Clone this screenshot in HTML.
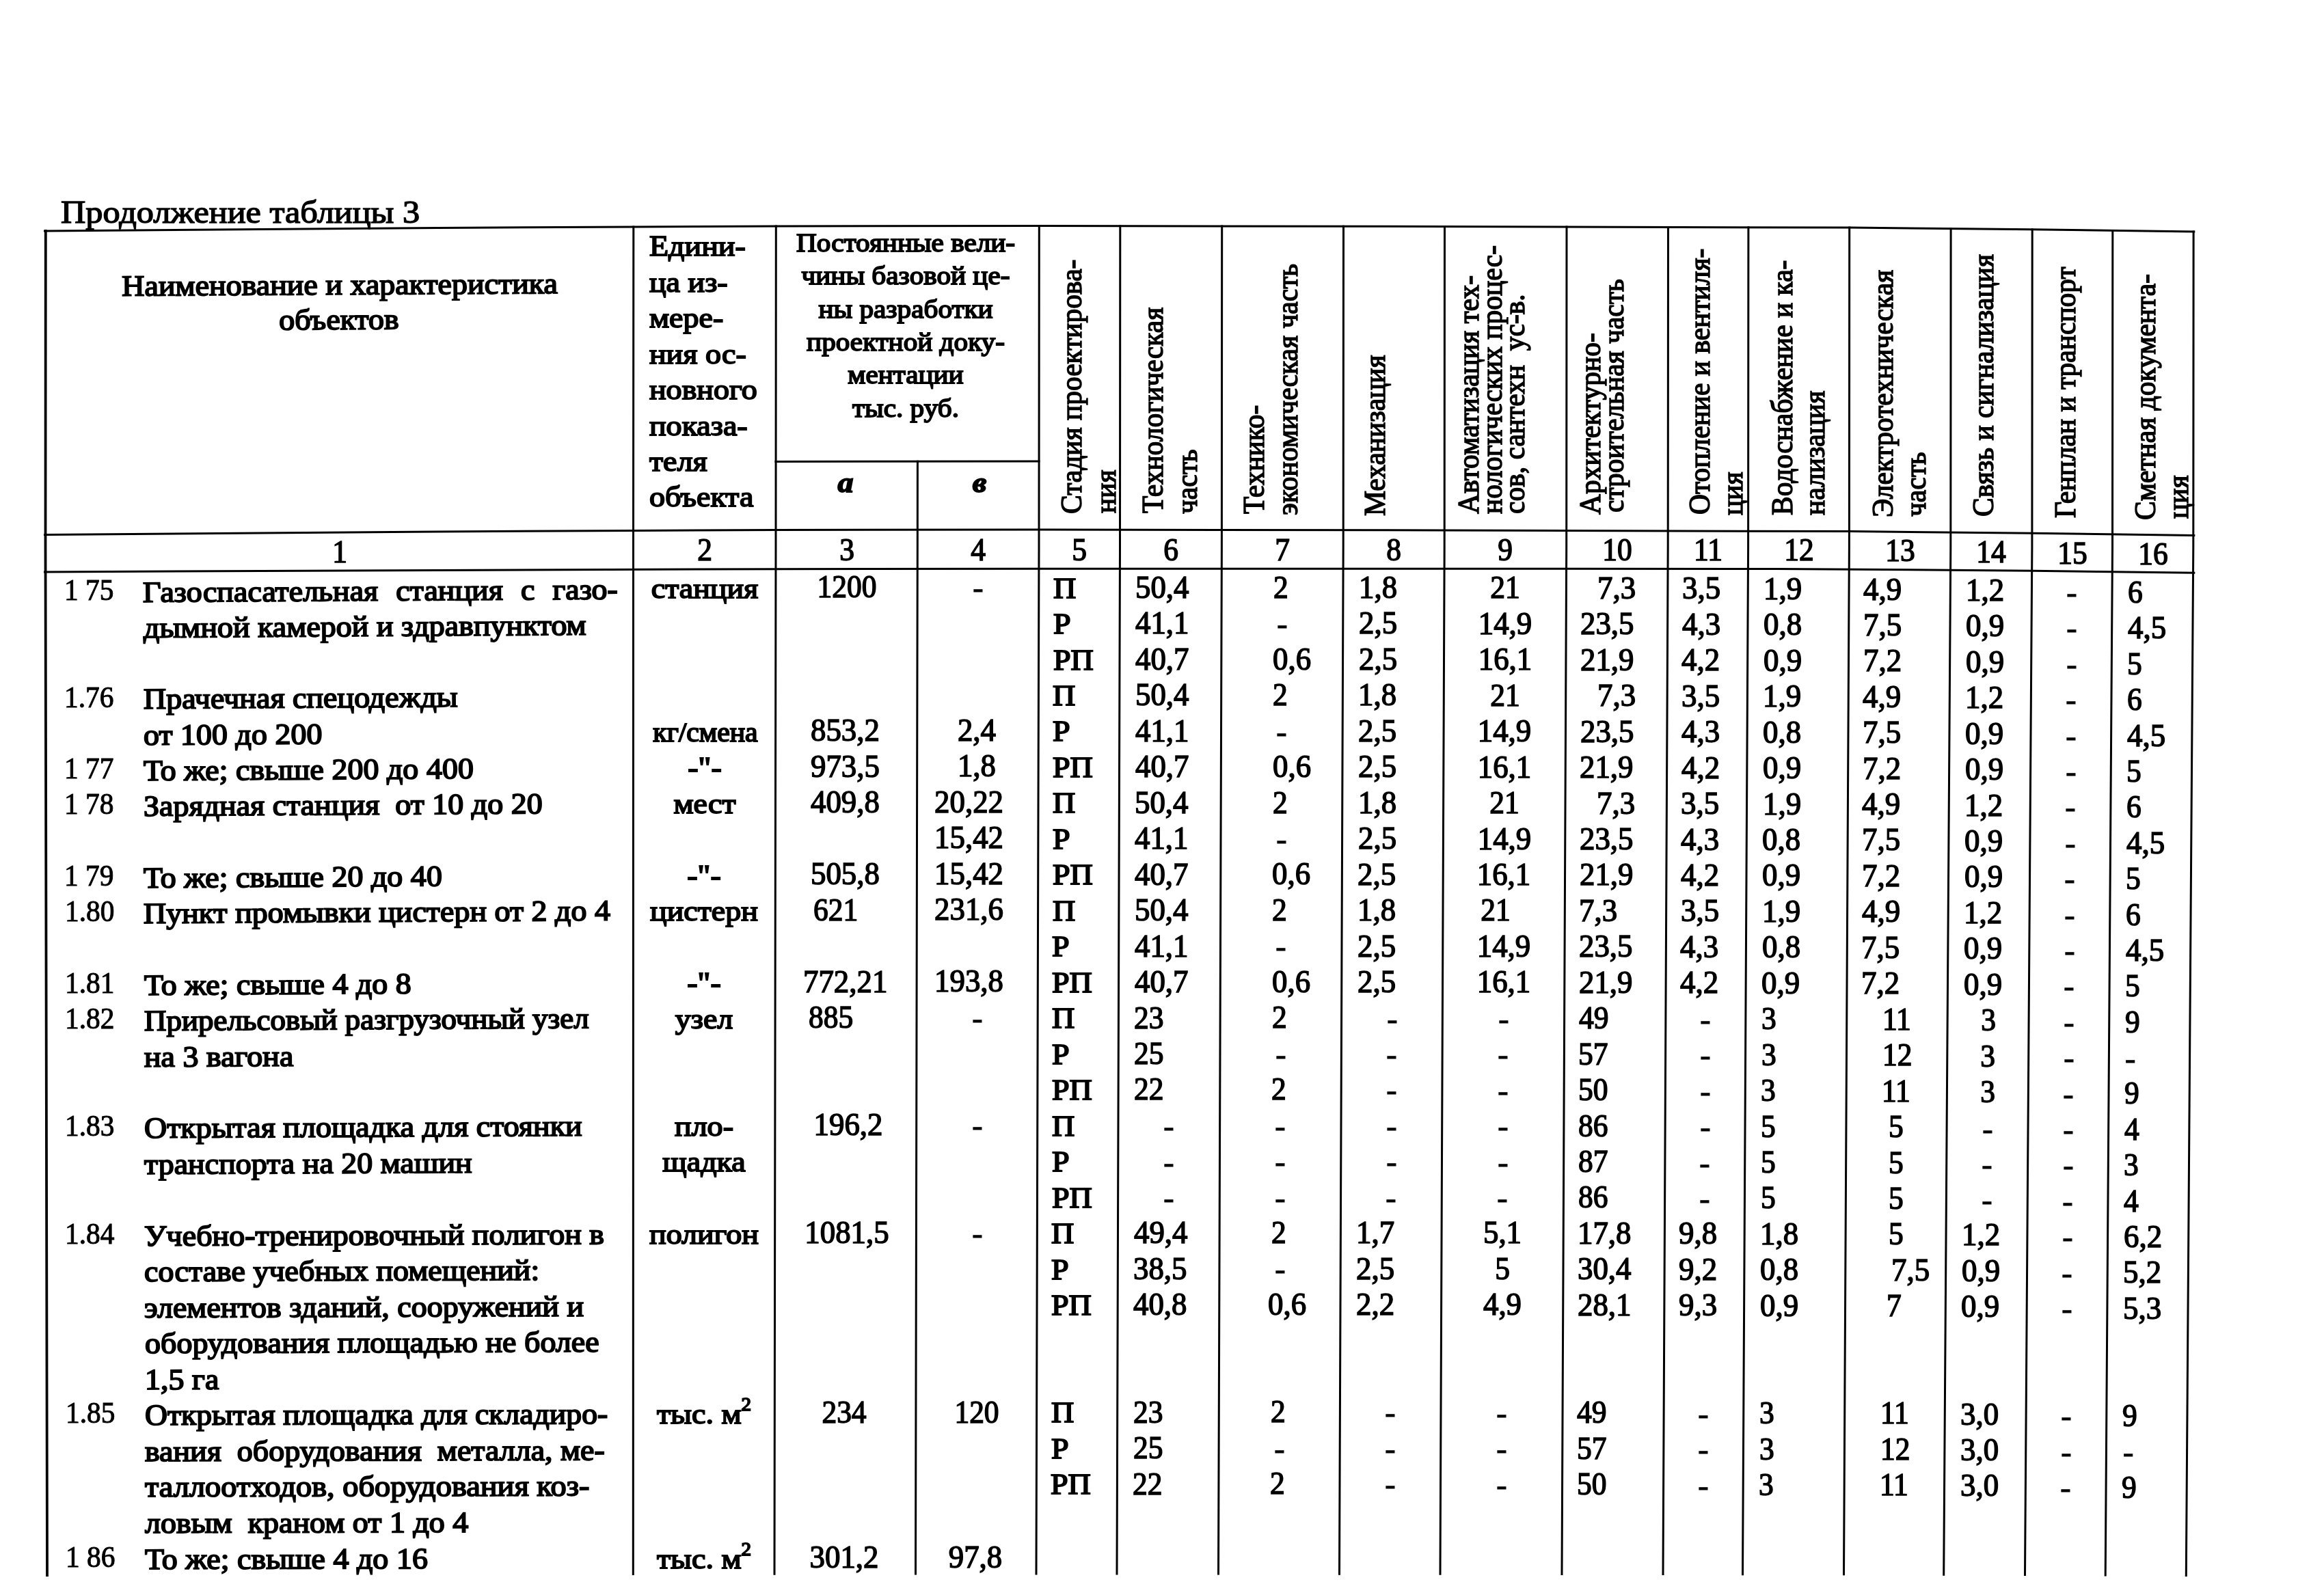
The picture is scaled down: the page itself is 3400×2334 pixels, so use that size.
<!DOCTYPE html>
<html lang="ru"><head><meta charset="utf-8"><title>Продолжение таблицы 3</title>
<style>
html,body{margin:0;padding:0;background:#fff;overflow:hidden;}
#pg{will-change:transform;position:relative;width:3400px;height:2334px;overflow:hidden;background:#fff;font-family:"Liberation Serif",serif;color:#000;}
#pg div{position:absolute;white-space:pre;line-height:1;-webkit-text-stroke:1.85px #000;}
#pg svg{position:absolute;left:0;top:0;}
</style></head><body>
<div id="pg">
<svg width="3400" height="2334" viewBox="0 0 3400 2334" fill="none" stroke="#000" stroke-linecap="square">
<polyline points="65.5,338.0 66.0,338.0 640.0,333.5 927.0,332.0 1135.0,331.0 1520.0,330.5 2113.0,331.5 2707.0,333.1 2973.0,335.7 3209.8,339.1" stroke-width="3.0"/>
<polyline points="65.5,782.5 66.0,782.5 640.0,778.0 927.0,776.5 1135.0,775.5 1520.0,775.0 2113.0,776.0 2707.0,777.6 2973.0,780.2 3209.8,783.6" stroke-width="3.0"/>
<polyline points="65.5,836.9 640.0,834.4 1135.0,832.7 1520.0,832.2 2600.0,832.4 2973.0,835.2 3209.8,838.3" stroke-width="3"/>
<polyline points="1135.0,675.5 1520.0,675.0" stroke-width="3.0"/>
<polyline points="66.8,338.0 66.5,800.0 69.0,2305.2" stroke-width="3.8"/>
<polyline points="926.8,332.0 926.5,800.0 926.3,2303.5" stroke-width="3.0"/>
<polyline points="1135.3,331.0 1135.0,800.0 1133.0,2303.2" stroke-width="3.0"/>
<polyline points="1342.4,675.2 1342.3,800.0 1339.5,2303.1" stroke-width="3.0"/>
<polyline points="1520.3,330.5 1520.0,800.0 1516.0,2303.0" stroke-width="3.0"/>
<polyline points="1638.8,330.7 1638.5,800.0 1634.0,2303.1" stroke-width="3.0"/>
<polyline points="1787.7,331.0 1787.4,800.0 1782.5,2303.1" stroke-width="3.0"/>
<polyline points="1965.5,331.3 1965.2,800.0 1959.5,2303.2" stroke-width="3.0"/>
<polyline points="2113.5,331.5 2113.2,800.0 2107.0,2303.3" stroke-width="3.0"/>
<polyline points="2292.0,332.0 2291.7,800.0 2285.0,2303.4" stroke-width="3.0"/>
<polyline points="2440.5,332.4 2440.2,800.0 2433.0,2303.6" stroke-width="3.0"/>
<polyline points="2557.9,332.7 2557.6,800.0 2549.5,2303.7" stroke-width="3.0"/>
<polyline points="2705.7,333.1 2705.4,800.0 2697.5,2303.8" stroke-width="3.0"/>
<polyline points="2854.1,334.5 2853.8,800.0 2843.7,2304.2" stroke-width="3.0"/>
<polyline points="2973.2,335.7 2972.9,800.0 2962.5,2304.6" stroke-width="3.0"/>
<polyline points="3090.8,337.4 3090.5,800.0 3080.2,2305.1" stroke-width="3.0"/>
<polyline points="3209.1,339.1 3208.8,800.0 3198.3,2305.6" stroke-width="3.0"/>
</svg>
<div style="left:88.5px;top:286.9px;font-size:47px;transform-origin:0 83.8%;transform:scaleX(1.07);-webkit-text-stroke-width:1.4px;">Продолжение таблицы 3</div>
<div style="left:496.5px;top:394.7px;font-size:43px;transform-origin:50% 50%;transform:translateX(-50%) rotate(-0.33deg) scaleX(1.07);">Наименование и характеристика</div>
<div style="left:496.0px;top:446.1px;font-size:43px;transform-origin:50% 50%;transform:translateX(-50%) rotate(-0.33deg) scaleX(1.07);">объектов</div>
<div style="left:950.0px;top:338.3px;font-size:43px;transform-origin:0 83.8%;transform:scaleX(1.07);">Едини-</div>
<div style="left:950.0px;top:390.7px;font-size:43px;transform-origin:0 83.8%;transform:scaleX(1.07);">ца из-</div>
<div style="left:950.0px;top:443.2px;font-size:43px;transform-origin:0 83.8%;transform:scaleX(1.07);">мере-</div>
<div style="left:950.0px;top:495.6px;font-size:43px;transform-origin:0 83.8%;transform:scaleX(1.07);">ния ос-</div>
<div style="left:950.0px;top:548.1px;font-size:43px;transform-origin:0 83.8%;transform:scaleX(1.07);">новного</div>
<div style="left:950.0px;top:600.5px;font-size:43px;transform-origin:0 83.8%;transform:scaleX(1.07);">показа-</div>
<div style="left:950.0px;top:653.0px;font-size:43px;transform-origin:0 83.8%;transform:scaleX(1.07);">теля</div>
<div style="left:950.0px;top:705.4px;font-size:43px;transform-origin:0 83.8%;transform:scaleX(1.07);">объекта</div>
<div style="left:1325.0px;top:336.1px;font-size:38.5px;transform-origin:50% 50%;transform:translateX(-50%) scaleX(1.07);">Постоянные вели-</div>
<div style="left:1325.0px;top:384.4px;font-size:38.5px;transform-origin:50% 50%;transform:translateX(-50%) scaleX(1.07);">чины базовой це-</div>
<div style="left:1325.0px;top:432.7px;font-size:38.5px;transform-origin:50% 50%;transform:translateX(-50%) scaleX(1.07);">ны разработки</div>
<div style="left:1325.0px;top:481.0px;font-size:38.5px;transform-origin:50% 50%;transform:translateX(-50%) scaleX(1.07);">проектной доку-</div>
<div style="left:1325.0px;top:529.3px;font-size:38.5px;transform-origin:50% 50%;transform:translateX(-50%) scaleX(1.07);">ментации</div>
<div style="left:1325.0px;top:577.6px;font-size:38.5px;transform-origin:50% 50%;transform:translateX(-50%) scaleX(1.07);">тыс. руб.</div>
<div style="left:1237.0px;top:684.4px;font-size:43px;transform-origin:50% 50%;transform:translateX(-50%) scaleX(1.07);font-weight:bold;font-style:italic;">а</div>
<div style="left:1432.5px;top:684.1px;font-size:43px;transform-origin:50% 50%;transform:translateX(-50%) scaleX(1.07);font-weight:bold;font-style:italic;">в</div>
<div style="left:1546.2px;top:752.0px;font-size:41.5px;transform-origin:0 0;transform:rotate(-90deg) scaleY(1.07);-webkit-text-stroke-width:1.4px;">Стадия проектирова-</div>
<div style="left:1595.8px;top:750.5px;font-size:41.5px;transform-origin:0 0;transform:rotate(-90deg) scaleY(1.07);-webkit-text-stroke-width:1.4px;">ния</div>
<div style="left:1665.0px;top:750.8px;font-size:41.5px;transform-origin:0 0;transform:rotate(-90deg) scaleY(1.07);-webkit-text-stroke-width:1.4px;">Технологическая</div>
<div style="left:1714.6px;top:752.3px;font-size:41.5px;transform-origin:0 0;transform:rotate(-90deg) scaleY(1.07);-webkit-text-stroke-width:1.4px;">часть</div>
<div style="left:1813.4px;top:751.7px;font-size:41.5px;transform-origin:0 0;transform:rotate(-90deg) scaleY(1.07);-webkit-text-stroke-width:1.4px;">Технико-</div>
<div style="left:1862.4px;top:753.5px;font-size:41.5px;transform-origin:0 0;transform:rotate(-90deg) scaleY(1.07);-webkit-text-stroke-width:1.4px;">экономическая часть</div>
<div style="left:1989.8px;top:754.8px;font-size:41.5px;transform-origin:0 0;transform:rotate(-90deg) scaleY(1.07);-webkit-text-stroke-width:1.4px;">Механизация</div>
<div style="left:2126.6px;top:752.0px;font-size:41.5px;transform-origin:0 0;transform:rotate(-90deg) scaleY(1.07);-webkit-text-stroke-width:1.4px;">Автоматизация тех-</div>
<div style="left:2160.6px;top:751.7px;font-size:41.5px;transform-origin:0 0;transform:rotate(-90deg) scaleY(1.07);-webkit-text-stroke-width:1.4px;">нологических процес-</div>
<div style="left:2193.7px;top:751.5px;font-size:41.5px;transform-origin:0 0;transform:rotate(-90deg) scaleY(1.07);-webkit-text-stroke-width:1.4px;">сов, сантехн  ус-в.</div>
<div style="left:2304.5px;top:753.3px;font-size:41.5px;transform-origin:0 0;transform:rotate(-90deg) scaleY(1.07);-webkit-text-stroke-width:1.4px;">Архитектурно-</div>
<div style="left:2338.7px;top:750.0px;font-size:41.5px;transform-origin:0 0;transform:rotate(-90deg) scaleY(1.07);-webkit-text-stroke-width:1.4px;">строительная часть</div>
<div style="left:2464.5px;top:753.0px;font-size:41.5px;transform-origin:0 0;transform:rotate(-90deg) scaleY(1.07);-webkit-text-stroke-width:1.4px;">Отопление и вентиля-</div>
<div style="left:2513.0px;top:753.5px;font-size:41.5px;transform-origin:0 0;transform:rotate(-90deg) scaleY(1.07);-webkit-text-stroke-width:1.4px;">ция</div>
<div style="left:2585.8px;top:754.0px;font-size:41.5px;transform-origin:0 0;transform:rotate(-90deg) scaleY(1.07);-webkit-text-stroke-width:1.4px;">Водоснабжение и ка-</div>
<div style="left:2632.6px;top:753.5px;font-size:41.5px;transform-origin:0 0;transform:rotate(-90deg) scaleY(1.07);-webkit-text-stroke-width:1.4px;">нализация</div>
<div style="left:2732.6px;top:757.4px;font-size:41.5px;transform-origin:0 0;transform:rotate(-90deg) scaleY(1.07);-webkit-text-stroke-width:1.4px;">Электротехническая</div>
<div style="left:2780.5px;top:756.0px;font-size:41.5px;transform-origin:0 0;transform:rotate(-90deg) scaleY(1.07);-webkit-text-stroke-width:1.4px;">часть</div>
<div style="left:2880.1px;top:756.4px;font-size:41.5px;transform-origin:0 0;transform:rotate(-90deg) scaleY(1.07);-webkit-text-stroke-width:1.4px;">Связь и сигнализация</div>
<div style="left:2999.6px;top:758.4px;font-size:41.5px;transform-origin:0 0;transform:rotate(-90deg) scaleY(1.07);-webkit-text-stroke-width:1.4px;">Генплан и транспорт</div>
<div style="left:3116.6px;top:761.3px;font-size:41.5px;transform-origin:0 0;transform:rotate(-90deg) scaleY(1.07);-webkit-text-stroke-width:1.4px;">Сметная документа-</div>
<div style="left:3165.4px;top:758.7px;font-size:41.5px;transform-origin:0 0;transform:rotate(-90deg) scaleY(1.07);-webkit-text-stroke-width:1.4px;">ция</div>
<div style="left:496.5px;top:784.5px;font-size:46px;transform-origin:50% 50%;transform:translateX(-50%) scaleX(0.945);-webkit-text-stroke-width:1.5px;">1</div>
<div style="left:1030.8px;top:782.3px;font-size:46px;transform-origin:50% 50%;transform:translateX(-50%) scaleX(0.945);-webkit-text-stroke-width:1.5px;">2</div>
<div style="left:1238.7px;top:782.3px;font-size:46px;transform-origin:50% 50%;transform:translateX(-50%) scaleX(0.945);-webkit-text-stroke-width:1.5px;">3</div>
<div style="left:1431.2px;top:782.3px;font-size:46px;transform-origin:50% 50%;transform:translateX(-50%) scaleX(0.945);-webkit-text-stroke-width:1.5px;">4</div>
<div style="left:1579.2px;top:782.3px;font-size:46px;transform-origin:50% 50%;transform:translateX(-50%) scaleX(0.945);-webkit-text-stroke-width:1.5px;">5</div>
<div style="left:1713.0px;top:782.3px;font-size:46px;transform-origin:50% 50%;transform:translateX(-50%) scaleX(0.945);-webkit-text-stroke-width:1.5px;">6</div>
<div style="left:1876.3px;top:782.3px;font-size:46px;transform-origin:50% 50%;transform:translateX(-50%) scaleX(0.945);-webkit-text-stroke-width:1.5px;">7</div>
<div style="left:2039.2px;top:782.3px;font-size:46px;transform-origin:50% 50%;transform:translateX(-50%) scaleX(0.945);-webkit-text-stroke-width:1.5px;">8</div>
<div style="left:2202.4px;top:782.3px;font-size:46px;transform-origin:50% 50%;transform:translateX(-50%) scaleX(0.945);-webkit-text-stroke-width:1.5px;">9</div>
<div style="left:2365.9px;top:782.3px;font-size:46px;transform-origin:50% 50%;transform:translateX(-50%) scaleX(0.945);-webkit-text-stroke-width:1.5px;">10</div>
<div style="left:2498.9px;top:782.3px;font-size:46px;transform-origin:50% 50%;transform:translateX(-50%) scaleX(0.945);-webkit-text-stroke-width:1.5px;">11</div>
<div style="left:2631.5px;top:782.3px;font-size:46px;transform-origin:50% 50%;transform:translateX(-50%) scaleX(0.945);-webkit-text-stroke-width:1.5px;">12</div>
<div style="left:2779.6px;top:783.4px;font-size:46px;transform-origin:50% 50%;transform:translateX(-50%) scaleX(0.945);-webkit-text-stroke-width:1.5px;">13</div>
<div style="left:2913.4px;top:784.9px;font-size:46px;transform-origin:50% 50%;transform:translateX(-50%) scaleX(0.945);-webkit-text-stroke-width:1.5px;">14</div>
<div style="left:3031.7px;top:786.5px;font-size:46px;transform-origin:50% 50%;transform:translateX(-50%) scaleX(0.945);-webkit-text-stroke-width:1.5px;">15</div>
<div style="left:3149.7px;top:787.5px;font-size:46px;transform-origin:50% 50%;transform:translateX(-50%) scaleX(0.945);-webkit-text-stroke-width:1.5px;">16</div>
<div style="left:93.6px;top:841.5px;font-size:44px;transform-origin:0 83.8%;transform:scaleX(0.94);-webkit-text-stroke-width:1px;">1 75</div>
<div style="left:209.4px;top:844.5px;font-size:43px;transform-origin:0 83.8%;transform:rotate(-0.36deg) scaleX(1.07);word-spacing:13.6px;">Газоспасательная станция с газо-</div>
<div style="left:93.9px;top:998.5px;font-size:44px;transform-origin:0 83.8%;transform:scaleX(0.94);-webkit-text-stroke-width:1px;">1.76</div>
<div style="left:209.7px;top:1001.4px;font-size:43px;transform-origin:0 83.8%;transform:rotate(-0.36deg) scaleX(1.07);">Прачечная спецодежды</div>
<div style="left:209.8px;top:1053.7px;font-size:43px;transform-origin:0 83.8%;transform:rotate(-0.36deg) scaleX(1.07);">от 100 до 200</div>
<div style="left:209.5px;top:896.8px;font-size:43px;transform-origin:0 83.8%;transform:rotate(-0.36deg) scaleX(1.07);">дымной камерой и здравпунктом</div>
<div style="left:94.1px;top:1103.1px;font-size:44px;transform-origin:0 83.8%;transform:scaleX(0.94);-webkit-text-stroke-width:1px;">1 77</div>
<div style="left:209.9px;top:1106.0px;font-size:43px;transform-origin:0 83.8%;transform:rotate(-0.36deg) scaleX(1.07);">То же; свыше 200 до 400</div>
<div style="left:94.2px;top:1155.4px;font-size:44px;transform-origin:0 83.8%;transform:scaleX(0.94);-webkit-text-stroke-width:1px;">1 78</div>
<div style="left:210.0px;top:1158.4px;font-size:43px;transform-origin:0 83.8%;transform:rotate(-0.36deg) scaleX(1.07);">Зарядная станция  от 10 до 20</div>
<div style="left:94.4px;top:1260.0px;font-size:44px;transform-origin:0 83.8%;transform:scaleX(0.94);-webkit-text-stroke-width:1px;">1 79</div>
<div style="left:210.2px;top:1262.9px;font-size:43px;transform-origin:0 83.8%;transform:rotate(-0.36deg) scaleX(1.07);">То же; свыше 20 до 40</div>
<div style="left:94.5px;top:1312.3px;font-size:44px;transform-origin:0 83.8%;transform:scaleX(0.94);-webkit-text-stroke-width:1px;">1.80</div>
<div style="left:210.3px;top:1315.2px;font-size:43px;transform-origin:0 83.8%;transform:rotate(-0.36deg) scaleX(1.07);">Пункт промывки цистерн от 2 до 4</div>
<div style="left:94.7px;top:1416.8px;font-size:44px;transform-origin:0 83.8%;transform:scaleX(0.94);-webkit-text-stroke-width:1px;">1.81</div>
<div style="left:210.5px;top:1419.8px;font-size:43px;transform-origin:0 83.8%;transform:rotate(-0.344deg) scaleX(1.07);">То же; свыше 4 до 8</div>
<div style="left:94.8px;top:1469.1px;font-size:44px;transform-origin:0 83.8%;transform:scaleX(0.94);-webkit-text-stroke-width:1px;">1.82</div>
<div style="left:210.6px;top:1472.1px;font-size:43px;transform-origin:0 83.8%;transform:rotate(-0.327deg) scaleX(1.04646);">Прирельсовый разгрузочный узел</div>
<div style="left:210.7px;top:1524.5px;font-size:43px;transform-origin:0 83.8%;transform:rotate(-0.311deg) scaleX(1.07);">на 3 вагона</div>
<div style="left:95.1px;top:1626.4px;font-size:44px;transform-origin:0 83.8%;transform:scaleX(0.94);-webkit-text-stroke-width:1px;">1.83</div>
<div style="left:210.9px;top:1629.4px;font-size:43px;transform-origin:0 83.8%;transform:rotate(-0.278deg) scaleX(1.07);">Открытая площадка для стоянки</div>
<div style="left:211.0px;top:1681.8px;font-size:43px;transform-origin:0 83.8%;transform:rotate(-0.261deg) scaleX(1.07);">транспорта на 20 машин</div>
<div style="left:95.4px;top:1783.7px;font-size:44px;transform-origin:0 83.8%;transform:scaleX(0.94);-webkit-text-stroke-width:1px;">1.84</div>
<div style="left:211.2px;top:1786.7px;font-size:43px;transform-origin:0 83.8%;transform:rotate(-0.229deg) scaleX(1.07);">Учебно-тренировочный полигон в</div>
<div style="left:211.3px;top:1839.1px;font-size:43px;transform-origin:0 83.8%;transform:rotate(-0.212deg) scaleX(1.07);">составе учебных помещений:</div>
<div style="left:211.4px;top:1891.5px;font-size:43px;transform-origin:0 83.8%;transform:rotate(-0.196deg) scaleX(1.07);">элементов зданий, сооружений и</div>
<div style="left:211.5px;top:1944.1px;font-size:43px;transform-origin:0 83.8%;transform:rotate(-0.179deg) scaleX(1.07);">оборудования площадью не более</div>
<div style="left:211.6px;top:1996.6px;font-size:43px;transform-origin:0 83.8%;transform:rotate(-0.163deg) scaleX(1.07);">1,5 га</div>
<div style="left:95.9px;top:2046.3px;font-size:44px;transform-origin:0 83.8%;transform:scaleX(0.94);-webkit-text-stroke-width:1px;">1.85</div>
<div style="left:211.7px;top:2049.2px;font-size:43px;transform-origin:0 83.8%;transform:rotate(-0.146deg) scaleX(1.06358);">Открытая площадка для складиро-</div>
<div style="left:211.8px;top:2101.6px;font-size:43px;transform-origin:0 83.8%;transform:rotate(-0.13deg) scaleX(1.0689300000000002);">вания  оборудования  металла, ме-</div>
<div style="left:211.9px;top:2154.1px;font-size:43px;transform-origin:0 83.8%;transform:rotate(-0.13deg) scaleX(1.07856);">таллоотходов, оборудования коз-</div>
<div style="left:212.0px;top:2206.5px;font-size:43px;transform-origin:0 83.8%;transform:rotate(-0.13deg) scaleX(1.07);">ловым  краном от 1 до 4</div>
<div style="left:96.3px;top:2256.9px;font-size:44px;transform-origin:0 83.8%;transform:scaleX(0.94);-webkit-text-stroke-width:1px;">1 86</div>
<div style="left:212.1px;top:2259.8px;font-size:43px;transform-origin:0 83.8%;transform:rotate(-0.13deg) scaleX(1.07);">То же; свыше 4 до 16</div>
<div style="left:1030.7px;top:839.1px;font-size:43px;transform-origin:50% 50%;transform:translateX(-50%) scaleX(1.07);">станция</div>
<div style="left:1032.1px;top:1052.2px;font-size:39px;transform-origin:50% 50%;transform:translateX(-50%) scaleX(1.07);">кг/смена</div>
<div style="left:1030.5px;top:1101.3px;font-size:43px;transform-origin:50% 50%;transform:translateX(-50%) scaleX(1.07);">-"-</div>
<div style="left:1030.5px;top:1153.8px;font-size:43px;transform-origin:50% 50%;transform:translateX(-50%) scaleX(1.07);">мест</div>
<div style="left:1030.4px;top:1258.7px;font-size:43px;transform-origin:50% 50%;transform:translateX(-50%) scaleX(1.07);">-"-</div>
<div style="left:1030.4px;top:1311.1px;font-size:43px;transform-origin:50% 50%;transform:translateX(-50%) scaleX(1.07);">цистерн</div>
<div style="left:1030.3px;top:1416.0px;font-size:43px;transform-origin:50% 50%;transform:translateX(-50%) scaleX(1.07);">-"-</div>
<div style="left:1030.2px;top:1468.5px;font-size:43px;transform-origin:50% 50%;transform:translateX(-50%) scaleX(1.07);">узел</div>
<div style="left:1030.1px;top:1625.8px;font-size:43px;transform-origin:50% 50%;transform:translateX(-50%) scaleX(1.07);">пло-</div>
<div style="left:1030.1px;top:1678.3px;font-size:43px;transform-origin:50% 50%;transform:translateX(-50%) scaleX(1.07);">щадка</div>
<div style="left:1030.0px;top:1783.6px;font-size:43px;transform-origin:50% 50%;transform:translateX(-50%) scaleX(1.07);">полигон</div>
<div style="left:1029.8px;top:2046.8px;font-size:43px;transform-origin:50% 50%;transform:translateX(-50%) scaleX(1.07);">тыс. м<span style="font-size:27px;position:relative;top:-19px;">2</span></div>
<div style="left:1029.7px;top:2258.7px;font-size:43px;transform-origin:50% 50%;transform:translateX(-50%) scaleX(1.07);">тыс. м<span style="font-size:27px;position:relative;top:-19px;">2</span></div>
<div style="left:1239.0px;top:836.4px;font-size:46px;transform-origin:50% 50%;transform:translateX(-50%) scaleX(0.945);-webkit-text-stroke-width:1.5px;">1200</div>
<div style="left:1185.6px;top:1046.3px;font-size:46px;transform-origin:0 83.8%;transform:scaleX(0.975);-webkit-text-stroke-width:1.5px;">853,2</div>
<div style="left:1185.6px;top:1098.8px;font-size:46px;transform-origin:0 83.8%;transform:scaleX(0.975);-webkit-text-stroke-width:1.5px;">973,5</div>
<div style="left:1185.6px;top:1151.2px;font-size:46px;transform-origin:0 83.8%;transform:scaleX(0.975);-webkit-text-stroke-width:1.5px;">409,8</div>
<div style="left:1185.6px;top:1256.1px;font-size:46px;transform-origin:0 83.8%;transform:scaleX(0.975);-webkit-text-stroke-width:1.5px;">505,8</div>
<div style="left:1190.3px;top:1308.6px;font-size:46px;transform-origin:0 83.8%;transform:scaleX(0.945);-webkit-text-stroke-width:1.5px;">621</div>
<div style="left:1175.3px;top:1413.5px;font-size:46px;transform-origin:0 83.8%;transform:scaleX(0.975);-webkit-text-stroke-width:1.5px;">772,21</div>
<div style="left:1183.3px;top:1465.9px;font-size:46px;transform-origin:0 83.8%;transform:scaleX(0.945);-webkit-text-stroke-width:1.5px;">885</div>
<div style="left:1241.0px;top:1623.2px;font-size:46px;transform-origin:50% 50%;transform:translateX(-50%) scaleX(0.975);-webkit-text-stroke-width:1.5px;">196,2</div>
<div style="left:1238.5px;top:1780.9px;font-size:46px;transform-origin:50% 50%;transform:translateX(-50%) scaleX(0.975);-webkit-text-stroke-width:1.5px;">1081,5</div>
<div style="left:1234.7px;top:2044.2px;font-size:46px;transform-origin:50% 50%;transform:translateX(-50%) scaleX(0.945);-webkit-text-stroke-width:1.5px;">234</div>
<div style="left:1235.0px;top:2256.1px;font-size:46px;transform-origin:50% 50%;transform:translateX(-50%) scaleX(0.975);-webkit-text-stroke-width:1.5px;">301,2</div>
<div style="left:1431.0px;top:838.2px;font-size:43px;transform-origin:50% 50%;transform:translateX(-50%) scaleX(1.07);-webkit-text-stroke-width:1.1px;">-</div>
<div style="left:1457.0px;top:1046.0px;font-size:46px;transform-origin:100% 50%;transform:translateX(-100%) scaleX(0.975);-webkit-text-stroke-width:1.5px;">2,4</div>
<div style="left:1457.0px;top:1098.4px;font-size:46px;transform-origin:100% 50%;transform:translateX(-100%) scaleX(0.975);-webkit-text-stroke-width:1.5px;">1,8</div>
<div style="left:1467.5px;top:1150.8px;font-size:46px;transform-origin:100% 50%;transform:translateX(-100%) scaleX(0.975);-webkit-text-stroke-width:1.5px;">20,22</div>
<div style="left:1467.5px;top:1203.3px;font-size:46px;transform-origin:100% 50%;transform:translateX(-100%) scaleX(0.975);-webkit-text-stroke-width:1.5px;">15,42</div>
<div style="left:1467.5px;top:1255.7px;font-size:46px;transform-origin:100% 50%;transform:translateX(-100%) scaleX(0.975);-webkit-text-stroke-width:1.5px;">15,42</div>
<div style="left:1467.5px;top:1308.2px;font-size:46px;transform-origin:100% 50%;transform:translateX(-100%) scaleX(0.975);-webkit-text-stroke-width:1.5px;">231,6</div>
<div style="left:1467.5px;top:1413.1px;font-size:46px;transform-origin:100% 50%;transform:translateX(-100%) scaleX(0.975);-webkit-text-stroke-width:1.5px;">193,8</div>
<div style="left:1430.0px;top:1467.6px;font-size:43px;transform-origin:50% 50%;transform:translateX(-50%) scaleX(1.07);-webkit-text-stroke-width:1.1px;">-</div>
<div style="left:1430.0px;top:1625.0px;font-size:43px;transform-origin:50% 50%;transform:translateX(-50%) scaleX(1.07);-webkit-text-stroke-width:1.1px;">-</div>
<div style="left:1430.0px;top:1782.7px;font-size:43px;transform-origin:50% 50%;transform:translateX(-50%) scaleX(1.07);-webkit-text-stroke-width:1.1px;">-</div>
<div style="left:1429.0px;top:2043.9px;font-size:46px;transform-origin:50% 50%;transform:translateX(-50%) scaleX(0.945);-webkit-text-stroke-width:1.5px;">120</div>
<div style="left:1426.6px;top:2255.8px;font-size:46px;transform-origin:50% 50%;transform:translateX(-50%) scaleX(0.975);-webkit-text-stroke-width:1.5px;">97,8</div>
<div style="left:1540.8px;top:838.5px;font-size:43px;transform-origin:0 83.8%;transform:scaleX(1.07);">П</div>
<div style="left:1661.3px;top:836.8px;font-size:46px;transform-origin:0 83.8%;transform:scaleX(0.975);-webkit-text-stroke-width:1.5px;">50,4</div>
<div style="left:1862.7px;top:836.8px;font-size:46px;transform-origin:0 83.8%;transform:scaleX(0.945);-webkit-text-stroke-width:1.5px;">2</div>
<div style="left:1988.0px;top:837.0px;font-size:46px;transform-origin:0 83.8%;transform:scaleX(0.975);-webkit-text-stroke-width:1.5px;">1,8</div>
<div style="left:2202.2px;top:837.3px;font-size:46px;transform-origin:50% 50%;transform:translateX(-50%) scaleX(0.945);-webkit-text-stroke-width:1.5px;">21</div>
<div style="left:2337.4px;top:837.8px;font-size:46px;transform-origin:0 83.8%;transform:scaleX(0.975);-webkit-text-stroke-width:1.5px;">7,3</div>
<div style="left:2460.9px;top:838.3px;font-size:46px;transform-origin:0 83.8%;transform:scaleX(0.975);-webkit-text-stroke-width:1.5px;">3,5</div>
<div style="left:2580.3px;top:838.8px;font-size:46px;transform-origin:0 83.8%;transform:scaleX(0.975);-webkit-text-stroke-width:1.5px;">1,9</div>
<div style="left:2726.1px;top:839.5px;font-size:46px;transform-origin:0 83.8%;transform:scaleX(0.975);-webkit-text-stroke-width:1.5px;">4,9</div>
<div style="left:2876.4px;top:841.0px;font-size:46px;transform-origin:0 83.8%;transform:scaleX(0.975);-webkit-text-stroke-width:1.5px;">1,2</div>
<div style="left:3031.3px;top:844.8px;font-size:43px;transform-origin:50% 50%;transform:translateX(-50%) scaleX(1.07);-webkit-text-stroke-width:1.1px;">-</div>
<div style="left:3113.1px;top:844.0px;font-size:46px;transform-origin:0 83.8%;transform:scaleX(0.945);-webkit-text-stroke-width:1.5px;">6</div>
<div style="left:1540.7px;top:891.0px;font-size:43px;transform-origin:0 83.8%;transform:scaleX(1.07);">Р</div>
<div style="left:1661.2px;top:889.3px;font-size:46px;transform-origin:0 83.8%;transform:scaleX(0.975);-webkit-text-stroke-width:1.5px;">41,1</div>
<div style="left:1875.9px;top:891.3px;font-size:43px;transform-origin:50% 50%;transform:translateX(-50%) scaleX(1.07);-webkit-text-stroke-width:1.1px;">-</div>
<div style="left:1987.8px;top:889.4px;font-size:46px;transform-origin:0 83.8%;transform:scaleX(0.975);-webkit-text-stroke-width:1.5px;">2,5</div>
<div style="left:2202.0px;top:889.8px;font-size:46px;transform-origin:50% 50%;transform:translateX(-50%) scaleX(0.975);-webkit-text-stroke-width:1.5px;">14,9</div>
<div style="left:2312.2px;top:890.2px;font-size:46px;transform-origin:0 83.8%;transform:scaleX(0.975);-webkit-text-stroke-width:1.5px;">23,5</div>
<div style="left:2460.7px;top:890.8px;font-size:46px;transform-origin:0 83.8%;transform:scaleX(0.975);-webkit-text-stroke-width:1.5px;">4,3</div>
<div style="left:2580.0px;top:891.2px;font-size:46px;transform-origin:0 83.8%;transform:scaleX(0.975);-webkit-text-stroke-width:1.5px;">0,8</div>
<div style="left:2725.8px;top:891.9px;font-size:46px;transform-origin:0 83.8%;transform:scaleX(0.975);-webkit-text-stroke-width:1.5px;">7,5</div>
<div style="left:2876.1px;top:893.4px;font-size:46px;transform-origin:0 83.8%;transform:scaleX(0.975);-webkit-text-stroke-width:1.5px;">0,9</div>
<div style="left:3030.9px;top:897.3px;font-size:43px;transform-origin:50% 50%;transform:translateX(-50%) scaleX(1.07);-webkit-text-stroke-width:1.1px;">-</div>
<div style="left:3112.7px;top:896.4px;font-size:46px;transform-origin:0 83.8%;transform:scaleX(0.975);-webkit-text-stroke-width:1.5px;">4,5</div>
<div style="left:1540.6px;top:943.5px;font-size:43px;transform-origin:0 83.8%;transform:scaleX(1.07);">РП</div>
<div style="left:1661.0px;top:941.8px;font-size:46px;transform-origin:0 83.8%;transform:scaleX(0.975);-webkit-text-stroke-width:1.5px;">40,7</div>
<div style="left:1862.4px;top:941.7px;font-size:46px;transform-origin:0 83.8%;transform:scaleX(0.975);-webkit-text-stroke-width:1.5px;">0,6</div>
<div style="left:1987.6px;top:941.9px;font-size:46px;transform-origin:0 83.8%;transform:scaleX(0.975);-webkit-text-stroke-width:1.5px;">2,5</div>
<div style="left:2201.7px;top:942.2px;font-size:46px;transform-origin:50% 50%;transform:translateX(-50%) scaleX(0.975);-webkit-text-stroke-width:1.5px;">16,1</div>
<div style="left:2312.0px;top:942.6px;font-size:46px;transform-origin:0 83.8%;transform:scaleX(0.975);-webkit-text-stroke-width:1.5px;">21,9</div>
<div style="left:2460.4px;top:943.2px;font-size:46px;transform-origin:0 83.8%;transform:scaleX(0.975);-webkit-text-stroke-width:1.5px;">4,2</div>
<div style="left:2579.7px;top:943.7px;font-size:46px;transform-origin:0 83.8%;transform:scaleX(0.975);-webkit-text-stroke-width:1.5px;">0,9</div>
<div style="left:2725.5px;top:944.3px;font-size:46px;transform-origin:0 83.8%;transform:scaleX(0.975);-webkit-text-stroke-width:1.5px;">7,2</div>
<div style="left:2875.7px;top:945.8px;font-size:46px;transform-origin:0 83.8%;transform:scaleX(0.975);-webkit-text-stroke-width:1.5px;">0,9</div>
<div style="left:3030.6px;top:949.7px;font-size:43px;transform-origin:50% 50%;transform:translateX(-50%) scaleX(1.07);-webkit-text-stroke-width:1.1px;">-</div>
<div style="left:3112.4px;top:948.8px;font-size:46px;transform-origin:0 83.8%;transform:scaleX(0.945);-webkit-text-stroke-width:1.5px;">5</div>
<div style="left:1540.4px;top:995.9px;font-size:43px;transform-origin:0 83.8%;transform:scaleX(1.07);">П</div>
<div style="left:1660.9px;top:994.2px;font-size:46px;transform-origin:0 83.8%;transform:scaleX(0.975);-webkit-text-stroke-width:1.5px;">50,4</div>
<div style="left:1862.2px;top:994.2px;font-size:46px;transform-origin:0 83.8%;transform:scaleX(0.945);-webkit-text-stroke-width:1.5px;">2</div>
<div style="left:1987.4px;top:994.3px;font-size:46px;transform-origin:0 83.8%;transform:scaleX(0.975);-webkit-text-stroke-width:1.5px;">1,8</div>
<div style="left:2201.5px;top:994.7px;font-size:46px;transform-origin:50% 50%;transform:translateX(-50%) scaleX(0.945);-webkit-text-stroke-width:1.5px;">21</div>
<div style="left:2336.7px;top:995.2px;font-size:46px;transform-origin:0 83.8%;transform:scaleX(0.975);-webkit-text-stroke-width:1.5px;">7,3</div>
<div style="left:2460.2px;top:995.7px;font-size:46px;transform-origin:0 83.8%;transform:scaleX(0.975);-webkit-text-stroke-width:1.5px;">3,5</div>
<div style="left:2579.4px;top:996.1px;font-size:46px;transform-origin:0 83.8%;transform:scaleX(0.975);-webkit-text-stroke-width:1.5px;">1,9</div>
<div style="left:2725.3px;top:996.7px;font-size:46px;transform-origin:0 83.8%;transform:scaleX(0.975);-webkit-text-stroke-width:1.5px;">4,9</div>
<div style="left:2875.3px;top:998.2px;font-size:46px;transform-origin:0 83.8%;transform:scaleX(0.975);-webkit-text-stroke-width:1.5px;">1,2</div>
<div style="left:3030.2px;top:1002.1px;font-size:43px;transform-origin:50% 50%;transform:translateX(-50%) scaleX(1.07);-webkit-text-stroke-width:1.1px;">-</div>
<div style="left:3112.0px;top:1001.2px;font-size:46px;transform-origin:0 83.8%;transform:scaleX(0.945);-webkit-text-stroke-width:1.5px;">6</div>
<div style="left:1540.3px;top:1048.4px;font-size:43px;transform-origin:0 83.8%;transform:scaleX(1.07);">Р</div>
<div style="left:1660.7px;top:1046.7px;font-size:46px;transform-origin:0 83.8%;transform:scaleX(0.975);-webkit-text-stroke-width:1.5px;">41,1</div>
<div style="left:1875.4px;top:1048.7px;font-size:43px;transform-origin:50% 50%;transform:translateX(-50%) scaleX(1.07);-webkit-text-stroke-width:1.1px;">-</div>
<div style="left:1987.2px;top:1046.8px;font-size:46px;transform-origin:0 83.8%;transform:scaleX(0.975);-webkit-text-stroke-width:1.5px;">2,5</div>
<div style="left:2201.3px;top:1047.1px;font-size:46px;transform-origin:50% 50%;transform:translateX(-50%) scaleX(0.975);-webkit-text-stroke-width:1.5px;">14,9</div>
<div style="left:2311.5px;top:1047.5px;font-size:46px;transform-origin:0 83.8%;transform:scaleX(0.975);-webkit-text-stroke-width:1.5px;">23,5</div>
<div style="left:2459.9px;top:1048.1px;font-size:46px;transform-origin:0 83.8%;transform:scaleX(0.975);-webkit-text-stroke-width:1.5px;">4,3</div>
<div style="left:2579.2px;top:1048.6px;font-size:46px;transform-origin:0 83.8%;transform:scaleX(0.975);-webkit-text-stroke-width:1.5px;">0,8</div>
<div style="left:2725.0px;top:1049.1px;font-size:46px;transform-origin:0 83.8%;transform:scaleX(0.975);-webkit-text-stroke-width:1.5px;">7,5</div>
<div style="left:2875.0px;top:1050.6px;font-size:46px;transform-origin:0 83.8%;transform:scaleX(0.975);-webkit-text-stroke-width:1.5px;">0,9</div>
<div style="left:3029.8px;top:1054.5px;font-size:43px;transform-origin:50% 50%;transform:translateX(-50%) scaleX(1.07);-webkit-text-stroke-width:1.1px;">-</div>
<div style="left:3111.7px;top:1053.6px;font-size:46px;transform-origin:0 83.8%;transform:scaleX(0.975);-webkit-text-stroke-width:1.5px;">4,5</div>
<div style="left:1540.1px;top:1100.9px;font-size:43px;transform-origin:0 83.8%;transform:scaleX(1.07);">РП</div>
<div style="left:1660.5px;top:1099.2px;font-size:46px;transform-origin:0 83.8%;transform:scaleX(0.975);-webkit-text-stroke-width:1.5px;">40,7</div>
<div style="left:1861.9px;top:1099.1px;font-size:46px;transform-origin:0 83.8%;transform:scaleX(0.975);-webkit-text-stroke-width:1.5px;">0,6</div>
<div style="left:1987.0px;top:1099.2px;font-size:46px;transform-origin:0 83.8%;transform:scaleX(0.975);-webkit-text-stroke-width:1.5px;">2,5</div>
<div style="left:2201.1px;top:1099.6px;font-size:46px;transform-origin:50% 50%;transform:translateX(-50%) scaleX(0.975);-webkit-text-stroke-width:1.5px;">16,1</div>
<div style="left:2311.3px;top:1100.0px;font-size:46px;transform-origin:0 83.8%;transform:scaleX(0.975);-webkit-text-stroke-width:1.5px;">21,9</div>
<div style="left:2459.7px;top:1100.6px;font-size:46px;transform-origin:0 83.8%;transform:scaleX(0.975);-webkit-text-stroke-width:1.5px;">4,2</div>
<div style="left:2578.9px;top:1101.0px;font-size:46px;transform-origin:0 83.8%;transform:scaleX(0.975);-webkit-text-stroke-width:1.5px;">0,9</div>
<div style="left:2724.7px;top:1101.5px;font-size:46px;transform-origin:0 83.8%;transform:scaleX(0.975);-webkit-text-stroke-width:1.5px;">7,2</div>
<div style="left:2874.6px;top:1103.1px;font-size:46px;transform-origin:0 83.8%;transform:scaleX(0.975);-webkit-text-stroke-width:1.5px;">0,9</div>
<div style="left:3029.5px;top:1106.9px;font-size:43px;transform-origin:50% 50%;transform:translateX(-50%) scaleX(1.07);-webkit-text-stroke-width:1.1px;">-</div>
<div style="left:3111.3px;top:1106.0px;font-size:46px;transform-origin:0 83.8%;transform:scaleX(0.945);-webkit-text-stroke-width:1.5px;">5</div>
<div style="left:1540.0px;top:1153.4px;font-size:43px;transform-origin:0 83.8%;transform:scaleX(1.07);">П</div>
<div style="left:1660.4px;top:1151.7px;font-size:46px;transform-origin:0 83.8%;transform:scaleX(0.975);-webkit-text-stroke-width:1.5px;">50,4</div>
<div style="left:1861.7px;top:1151.5px;font-size:46px;transform-origin:0 83.8%;transform:scaleX(0.945);-webkit-text-stroke-width:1.5px;">2</div>
<div style="left:1986.8px;top:1151.7px;font-size:46px;transform-origin:0 83.8%;transform:scaleX(0.975);-webkit-text-stroke-width:1.5px;">1,8</div>
<div style="left:2200.8px;top:1152.0px;font-size:46px;transform-origin:50% 50%;transform:translateX(-50%) scaleX(0.945);-webkit-text-stroke-width:1.5px;">21</div>
<div style="left:2336.0px;top:1152.5px;font-size:46px;transform-origin:0 83.8%;transform:scaleX(0.975);-webkit-text-stroke-width:1.5px;">7,3</div>
<div style="left:2459.4px;top:1153.0px;font-size:46px;transform-origin:0 83.8%;transform:scaleX(0.975);-webkit-text-stroke-width:1.5px;">3,5</div>
<div style="left:2578.6px;top:1153.5px;font-size:46px;transform-origin:0 83.8%;transform:scaleX(0.975);-webkit-text-stroke-width:1.5px;">1,9</div>
<div style="left:2724.4px;top:1154.0px;font-size:46px;transform-origin:0 83.8%;transform:scaleX(0.975);-webkit-text-stroke-width:1.5px;">4,9</div>
<div style="left:2874.3px;top:1155.5px;font-size:46px;transform-origin:0 83.8%;transform:scaleX(0.975);-webkit-text-stroke-width:1.5px;">1,2</div>
<div style="left:3029.1px;top:1159.3px;font-size:43px;transform-origin:50% 50%;transform:translateX(-50%) scaleX(1.07);-webkit-text-stroke-width:1.1px;">-</div>
<div style="left:3110.9px;top:1158.3px;font-size:46px;transform-origin:0 83.8%;transform:scaleX(0.945);-webkit-text-stroke-width:1.5px;">6</div>
<div style="left:1539.9px;top:1205.8px;font-size:43px;transform-origin:0 83.8%;transform:scaleX(1.07);">Р</div>
<div style="left:1660.2px;top:1204.1px;font-size:46px;transform-origin:0 83.8%;transform:scaleX(0.975);-webkit-text-stroke-width:1.5px;">41,1</div>
<div style="left:1874.8px;top:1206.0px;font-size:43px;transform-origin:50% 50%;transform:translateX(-50%) scaleX(1.07);-webkit-text-stroke-width:1.1px;">-</div>
<div style="left:1986.6px;top:1204.1px;font-size:46px;transform-origin:0 83.8%;transform:scaleX(0.975);-webkit-text-stroke-width:1.5px;">2,5</div>
<div style="left:2200.6px;top:1204.5px;font-size:46px;transform-origin:50% 50%;transform:translateX(-50%) scaleX(0.975);-webkit-text-stroke-width:1.5px;">14,9</div>
<div style="left:2310.8px;top:1204.9px;font-size:46px;transform-origin:0 83.8%;transform:scaleX(0.975);-webkit-text-stroke-width:1.5px;">23,5</div>
<div style="left:2459.2px;top:1205.5px;font-size:46px;transform-origin:0 83.8%;transform:scaleX(0.975);-webkit-text-stroke-width:1.5px;">4,3</div>
<div style="left:2578.3px;top:1205.9px;font-size:46px;transform-origin:0 83.8%;transform:scaleX(0.975);-webkit-text-stroke-width:1.5px;">0,8</div>
<div style="left:2724.2px;top:1206.4px;font-size:46px;transform-origin:0 83.8%;transform:scaleX(0.975);-webkit-text-stroke-width:1.5px;">7,5</div>
<div style="left:2873.9px;top:1207.9px;font-size:46px;transform-origin:0 83.8%;transform:scaleX(0.975);-webkit-text-stroke-width:1.5px;">0,9</div>
<div style="left:3028.8px;top:1211.7px;font-size:43px;transform-origin:50% 50%;transform:translateX(-50%) scaleX(1.07);-webkit-text-stroke-width:1.1px;">-</div>
<div style="left:3110.6px;top:1210.7px;font-size:46px;transform-origin:0 83.8%;transform:scaleX(0.975);-webkit-text-stroke-width:1.5px;">4,5</div>
<div style="left:1539.7px;top:1258.3px;font-size:43px;transform-origin:0 83.8%;transform:scaleX(1.07);">РП</div>
<div style="left:1660.1px;top:1256.6px;font-size:46px;transform-origin:0 83.8%;transform:scaleX(0.975);-webkit-text-stroke-width:1.5px;">40,7</div>
<div style="left:1861.3px;top:1256.4px;font-size:46px;transform-origin:0 83.8%;transform:scaleX(0.975);-webkit-text-stroke-width:1.5px;">0,6</div>
<div style="left:1986.4px;top:1256.6px;font-size:46px;transform-origin:0 83.8%;transform:scaleX(0.975);-webkit-text-stroke-width:1.5px;">2,5</div>
<div style="left:2200.4px;top:1256.9px;font-size:46px;transform-origin:50% 50%;transform:translateX(-50%) scaleX(0.975);-webkit-text-stroke-width:1.5px;">16,1</div>
<div style="left:2310.6px;top:1257.3px;font-size:46px;transform-origin:0 83.8%;transform:scaleX(0.975);-webkit-text-stroke-width:1.5px;">21,9</div>
<div style="left:2458.9px;top:1257.9px;font-size:46px;transform-origin:0 83.8%;transform:scaleX(0.975);-webkit-text-stroke-width:1.5px;">4,2</div>
<div style="left:2578.0px;top:1258.4px;font-size:46px;transform-origin:0 83.8%;transform:scaleX(0.975);-webkit-text-stroke-width:1.5px;">0,9</div>
<div style="left:2723.9px;top:1258.8px;font-size:46px;transform-origin:0 83.8%;transform:scaleX(0.975);-webkit-text-stroke-width:1.5px;">7,2</div>
<div style="left:2873.6px;top:1260.3px;font-size:46px;transform-origin:0 83.8%;transform:scaleX(0.975);-webkit-text-stroke-width:1.5px;">0,9</div>
<div style="left:3028.4px;top:1264.1px;font-size:43px;transform-origin:50% 50%;transform:translateX(-50%) scaleX(1.07);-webkit-text-stroke-width:1.1px;">-</div>
<div style="left:3110.2px;top:1263.1px;font-size:46px;transform-origin:0 83.8%;transform:scaleX(0.945);-webkit-text-stroke-width:1.5px;">5</div>
<div style="left:1539.6px;top:1310.8px;font-size:43px;transform-origin:0 83.8%;transform:scaleX(1.07);">П</div>
<div style="left:1659.9px;top:1309.1px;font-size:46px;transform-origin:0 83.8%;transform:scaleX(0.975);-webkit-text-stroke-width:1.5px;">50,4</div>
<div style="left:1861.2px;top:1308.9px;font-size:46px;transform-origin:0 83.8%;transform:scaleX(0.945);-webkit-text-stroke-width:1.5px;">2</div>
<div style="left:1986.2px;top:1309.0px;font-size:46px;transform-origin:0 83.8%;transform:scaleX(0.975);-webkit-text-stroke-width:1.5px;">1,8</div>
<div style="left:2187.7px;top:1309.3px;font-size:46px;transform-origin:50% 50%;transform:translateX(-50%) scaleX(0.945);-webkit-text-stroke-width:1.5px;">21</div>
<div style="left:2310.3px;top:1309.8px;font-size:46px;transform-origin:0 83.8%;transform:scaleX(0.975);-webkit-text-stroke-width:1.5px;">7,3</div>
<div style="left:2458.7px;top:1310.4px;font-size:46px;transform-origin:0 83.8%;transform:scaleX(0.975);-webkit-text-stroke-width:1.5px;">3,5</div>
<div style="left:2577.7px;top:1310.8px;font-size:46px;transform-origin:0 83.8%;transform:scaleX(0.975);-webkit-text-stroke-width:1.5px;">1,9</div>
<div style="left:2723.6px;top:1311.2px;font-size:46px;transform-origin:0 83.8%;transform:scaleX(0.975);-webkit-text-stroke-width:1.5px;">4,9</div>
<div style="left:2873.2px;top:1312.7px;font-size:46px;transform-origin:0 83.8%;transform:scaleX(0.975);-webkit-text-stroke-width:1.5px;">1,2</div>
<div style="left:3028.0px;top:1316.6px;font-size:43px;transform-origin:50% 50%;transform:translateX(-50%) scaleX(1.07);-webkit-text-stroke-width:1.1px;">-</div>
<div style="left:3109.9px;top:1315.5px;font-size:46px;transform-origin:0 83.8%;transform:scaleX(0.945);-webkit-text-stroke-width:1.5px;">6</div>
<div style="left:1539.4px;top:1363.2px;font-size:43px;transform-origin:0 83.8%;transform:scaleX(1.07);">Р</div>
<div style="left:1659.8px;top:1361.5px;font-size:46px;transform-origin:0 83.8%;transform:scaleX(0.975);-webkit-text-stroke-width:1.5px;">41,1</div>
<div style="left:1874.2px;top:1363.4px;font-size:43px;transform-origin:50% 50%;transform:translateX(-50%) scaleX(1.07);-webkit-text-stroke-width:1.1px;">-</div>
<div style="left:1986.0px;top:1361.5px;font-size:46px;transform-origin:0 83.8%;transform:scaleX(0.975);-webkit-text-stroke-width:1.5px;">2,5</div>
<div style="left:2199.9px;top:1361.8px;font-size:46px;transform-origin:50% 50%;transform:translateX(-50%) scaleX(0.975);-webkit-text-stroke-width:1.5px;">14,9</div>
<div style="left:2310.1px;top:1362.2px;font-size:46px;transform-origin:0 83.8%;transform:scaleX(0.975);-webkit-text-stroke-width:1.5px;">23,5</div>
<div style="left:2458.4px;top:1362.8px;font-size:46px;transform-origin:0 83.8%;transform:scaleX(0.975);-webkit-text-stroke-width:1.5px;">4,3</div>
<div style="left:2577.5px;top:1363.3px;font-size:46px;transform-origin:0 83.8%;transform:scaleX(0.975);-webkit-text-stroke-width:1.5px;">0,8</div>
<div style="left:2723.3px;top:1363.6px;font-size:46px;transform-origin:0 83.8%;transform:scaleX(0.975);-webkit-text-stroke-width:1.5px;">7,5</div>
<div style="left:2872.9px;top:1365.1px;font-size:46px;transform-origin:0 83.8%;transform:scaleX(0.975);-webkit-text-stroke-width:1.5px;">0,9</div>
<div style="left:3027.7px;top:1369.0px;font-size:43px;transform-origin:50% 50%;transform:translateX(-50%) scaleX(1.07);-webkit-text-stroke-width:1.1px;">-</div>
<div style="left:3109.5px;top:1367.9px;font-size:46px;transform-origin:0 83.8%;transform:scaleX(0.975);-webkit-text-stroke-width:1.5px;">4,5</div>
<div style="left:1539.3px;top:1415.7px;font-size:43px;transform-origin:0 83.8%;transform:scaleX(1.07);">РП</div>
<div style="left:1659.6px;top:1414.0px;font-size:46px;transform-origin:0 83.8%;transform:scaleX(0.975);-webkit-text-stroke-width:1.5px;">40,7</div>
<div style="left:1860.8px;top:1413.8px;font-size:46px;transform-origin:0 83.8%;transform:scaleX(0.975);-webkit-text-stroke-width:1.5px;">0,6</div>
<div style="left:1985.8px;top:1413.9px;font-size:46px;transform-origin:0 83.8%;transform:scaleX(0.975);-webkit-text-stroke-width:1.5px;">2,5</div>
<div style="left:2199.7px;top:1414.3px;font-size:46px;transform-origin:50% 50%;transform:translateX(-50%) scaleX(0.975);-webkit-text-stroke-width:1.5px;">16,1</div>
<div style="left:2309.9px;top:1414.7px;font-size:46px;transform-origin:0 83.8%;transform:scaleX(0.975);-webkit-text-stroke-width:1.5px;">21,9</div>
<div style="left:2458.1px;top:1415.3px;font-size:46px;transform-origin:0 83.8%;transform:scaleX(0.975);-webkit-text-stroke-width:1.5px;">4,2</div>
<div style="left:2577.2px;top:1415.7px;font-size:46px;transform-origin:0 83.8%;transform:scaleX(0.975);-webkit-text-stroke-width:1.5px;">0,9</div>
<div style="left:2723.1px;top:1416.0px;font-size:46px;transform-origin:0 83.8%;transform:scaleX(0.975);-webkit-text-stroke-width:1.5px;">7,2</div>
<div style="left:2872.5px;top:1417.5px;font-size:46px;transform-origin:0 83.8%;transform:scaleX(0.975);-webkit-text-stroke-width:1.5px;">0,9</div>
<div style="left:3027.3px;top:1421.4px;font-size:43px;transform-origin:50% 50%;transform:translateX(-50%) scaleX(1.07);-webkit-text-stroke-width:1.1px;">-</div>
<div style="left:3109.1px;top:1420.2px;font-size:46px;transform-origin:0 83.8%;transform:scaleX(0.945);-webkit-text-stroke-width:1.5px;">5</div>
<div style="left:1539.2px;top:1468.2px;font-size:43px;transform-origin:0 83.8%;transform:scaleX(1.07);">П</div>
<div style="left:1659.4px;top:1466.5px;font-size:46px;transform-origin:0 83.8%;transform:scaleX(0.945);-webkit-text-stroke-width:1.5px;">23</div>
<div style="left:1860.7px;top:1466.2px;font-size:46px;transform-origin:0 83.8%;transform:scaleX(0.945);-webkit-text-stroke-width:1.5px;">2</div>
<div style="left:2036.5px;top:1468.5px;font-size:43px;transform-origin:50% 50%;transform:translateX(-50%) scaleX(1.07);-webkit-text-stroke-width:1.1px;">-</div>
<div style="left:2199.5px;top:1468.7px;font-size:43px;transform-origin:50% 50%;transform:translateX(-50%) scaleX(1.07);-webkit-text-stroke-width:1.1px;">-</div>
<div style="left:2309.6px;top:1467.1px;font-size:46px;transform-origin:0 83.8%;transform:scaleX(0.945);-webkit-text-stroke-width:1.5px;">49</div>
<div style="left:2495.4px;top:1469.9px;font-size:43px;transform-origin:50% 50%;transform:translateX(-50%) scaleX(1.07);-webkit-text-stroke-width:1.1px;">-</div>
<div style="left:2576.9px;top:1468.2px;font-size:46px;transform-origin:0 83.8%;transform:scaleX(0.945);-webkit-text-stroke-width:1.5px;">3</div>
<div style="left:2753.8px;top:1468.7px;font-size:46px;transform-origin:0 83.8%;transform:scaleX(0.945);-webkit-text-stroke-width:1.5px;">11</div>
<div style="left:2908.6px;top:1470.3px;font-size:46px;transform-origin:50% 50%;transform:translateX(-50%) scaleX(0.945);-webkit-text-stroke-width:1.5px;">3</div>
<div style="left:3027.0px;top:1473.8px;font-size:43px;transform-origin:50% 50%;transform:translateX(-50%) scaleX(1.07);-webkit-text-stroke-width:1.1px;">-</div>
<div style="left:3108.8px;top:1472.6px;font-size:46px;transform-origin:0 83.8%;transform:scaleX(0.945);-webkit-text-stroke-width:1.5px;">9</div>
<div style="left:1539.0px;top:1520.6px;font-size:43px;transform-origin:0 83.8%;transform:scaleX(1.07);">Р</div>
<div style="left:1659.3px;top:1518.9px;font-size:46px;transform-origin:0 83.8%;transform:scaleX(0.945);-webkit-text-stroke-width:1.5px;">25</div>
<div style="left:1873.7px;top:1520.7px;font-size:43px;transform-origin:50% 50%;transform:translateX(-50%) scaleX(1.07);-webkit-text-stroke-width:1.1px;">-</div>
<div style="left:2036.3px;top:1520.9px;font-size:43px;transform-origin:50% 50%;transform:translateX(-50%) scaleX(1.07);-webkit-text-stroke-width:1.1px;">-</div>
<div style="left:2199.3px;top:1521.2px;font-size:43px;transform-origin:50% 50%;transform:translateX(-50%) scaleX(1.07);-webkit-text-stroke-width:1.1px;">-</div>
<div style="left:2309.4px;top:1519.6px;font-size:46px;transform-origin:0 83.8%;transform:scaleX(0.945);-webkit-text-stroke-width:1.5px;">57</div>
<div style="left:2495.1px;top:1522.3px;font-size:43px;transform-origin:50% 50%;transform:translateX(-50%) scaleX(1.07);-webkit-text-stroke-width:1.1px;">-</div>
<div style="left:2576.6px;top:1520.6px;font-size:46px;transform-origin:0 83.8%;transform:scaleX(0.945);-webkit-text-stroke-width:1.5px;">3</div>
<div style="left:2753.5px;top:1521.2px;font-size:46px;transform-origin:0 83.8%;transform:scaleX(0.945);-webkit-text-stroke-width:1.5px;">12</div>
<div style="left:2908.3px;top:1522.7px;font-size:46px;transform-origin:50% 50%;transform:translateX(-50%) scaleX(0.945);-webkit-text-stroke-width:1.5px;">3</div>
<div style="left:3026.6px;top:1526.2px;font-size:43px;transform-origin:50% 50%;transform:translateX(-50%) scaleX(1.07);-webkit-text-stroke-width:1.1px;">-</div>
<div style="left:3109.4px;top:1527.0px;font-size:43px;transform-origin:0 83.8%;transform:scaleX(1.07);-webkit-text-stroke-width:1.1px;">-</div>
<div style="left:1538.9px;top:1573.1px;font-size:43px;transform-origin:0 83.8%;transform:scaleX(1.07);">РП</div>
<div style="left:1659.1px;top:1571.4px;font-size:46px;transform-origin:0 83.8%;transform:scaleX(0.945);-webkit-text-stroke-width:1.5px;">22</div>
<div style="left:1860.3px;top:1571.1px;font-size:46px;transform-origin:0 83.8%;transform:scaleX(0.945);-webkit-text-stroke-width:1.5px;">2</div>
<div style="left:2036.1px;top:1573.4px;font-size:43px;transform-origin:50% 50%;transform:translateX(-50%) scaleX(1.07);-webkit-text-stroke-width:1.1px;">-</div>
<div style="left:2199.0px;top:1573.6px;font-size:43px;transform-origin:50% 50%;transform:translateX(-50%) scaleX(1.07);-webkit-text-stroke-width:1.1px;">-</div>
<div style="left:2309.2px;top:1572.0px;font-size:46px;transform-origin:0 83.8%;transform:scaleX(0.945);-webkit-text-stroke-width:1.5px;">50</div>
<div style="left:2494.9px;top:1574.8px;font-size:43px;transform-origin:50% 50%;transform:translateX(-50%) scaleX(1.07);-webkit-text-stroke-width:1.1px;">-</div>
<div style="left:2576.3px;top:1573.1px;font-size:46px;transform-origin:0 83.8%;transform:scaleX(0.945);-webkit-text-stroke-width:1.5px;">3</div>
<div style="left:2753.2px;top:1573.6px;font-size:46px;transform-origin:0 83.8%;transform:scaleX(0.945);-webkit-text-stroke-width:1.5px;">11</div>
<div style="left:2907.9px;top:1575.1px;font-size:46px;transform-origin:50% 50%;transform:translateX(-50%) scaleX(0.945);-webkit-text-stroke-width:1.5px;">3</div>
<div style="left:3026.2px;top:1578.6px;font-size:43px;transform-origin:50% 50%;transform:translateX(-50%) scaleX(1.07);-webkit-text-stroke-width:1.1px;">-</div>
<div style="left:3108.1px;top:1577.4px;font-size:46px;transform-origin:0 83.8%;transform:scaleX(0.945);-webkit-text-stroke-width:1.5px;">9</div>
<div style="left:1538.7px;top:1625.6px;font-size:43px;transform-origin:0 83.8%;transform:scaleX(1.07);">П</div>
<div style="left:1710.3px;top:1626.0px;font-size:43px;transform-origin:50% 50%;transform:translateX(-50%) scaleX(1.07);-webkit-text-stroke-width:1.1px;">-</div>
<div style="left:1873.3px;top:1625.6px;font-size:43px;transform-origin:50% 50%;transform:translateX(-50%) scaleX(1.07);-webkit-text-stroke-width:1.1px;">-</div>
<div style="left:2035.8px;top:1625.8px;font-size:43px;transform-origin:50% 50%;transform:translateX(-50%) scaleX(1.07);-webkit-text-stroke-width:1.1px;">-</div>
<div style="left:2198.8px;top:1626.1px;font-size:43px;transform-origin:50% 50%;transform:translateX(-50%) scaleX(1.07);-webkit-text-stroke-width:1.1px;">-</div>
<div style="left:2308.9px;top:1624.5px;font-size:46px;transform-origin:0 83.8%;transform:scaleX(0.945);-webkit-text-stroke-width:1.5px;">86</div>
<div style="left:2494.6px;top:1627.2px;font-size:43px;transform-origin:50% 50%;transform:translateX(-50%) scaleX(1.07);-webkit-text-stroke-width:1.1px;">-</div>
<div style="left:2576.0px;top:1625.5px;font-size:46px;transform-origin:0 83.8%;transform:scaleX(0.945);-webkit-text-stroke-width:1.5px;">5</div>
<div style="left:2763.4px;top:1626.1px;font-size:46px;transform-origin:0 83.8%;transform:scaleX(0.945);-webkit-text-stroke-width:1.5px;">5</div>
<div style="left:2907.6px;top:1629.6px;font-size:43px;transform-origin:50% 50%;transform:translateX(-50%) scaleX(1.07);-webkit-text-stroke-width:1.1px;">-</div>
<div style="left:3025.9px;top:1631.0px;font-size:43px;transform-origin:50% 50%;transform:translateX(-50%) scaleX(1.07);-webkit-text-stroke-width:1.1px;">-</div>
<div style="left:3107.7px;top:1629.8px;font-size:46px;transform-origin:0 83.8%;transform:scaleX(0.945);-webkit-text-stroke-width:1.5px;">4</div>
<div style="left:1538.6px;top:1678.1px;font-size:43px;transform-origin:0 83.8%;transform:scaleX(1.07);">Р</div>
<div style="left:1710.1px;top:1678.5px;font-size:43px;transform-origin:50% 50%;transform:translateX(-50%) scaleX(1.07);-webkit-text-stroke-width:1.1px;">-</div>
<div style="left:1873.1px;top:1678.1px;font-size:43px;transform-origin:50% 50%;transform:translateX(-50%) scaleX(1.07);-webkit-text-stroke-width:1.1px;">-</div>
<div style="left:2035.6px;top:1678.3px;font-size:43px;transform-origin:50% 50%;transform:translateX(-50%) scaleX(1.07);-webkit-text-stroke-width:1.1px;">-</div>
<div style="left:2198.6px;top:1678.5px;font-size:43px;transform-origin:50% 50%;transform:translateX(-50%) scaleX(1.07);-webkit-text-stroke-width:1.1px;">-</div>
<div style="left:2308.7px;top:1676.9px;font-size:46px;transform-origin:0 83.8%;transform:scaleX(0.945);-webkit-text-stroke-width:1.5px;">87</div>
<div style="left:2494.3px;top:1679.7px;font-size:43px;transform-origin:50% 50%;transform:translateX(-50%) scaleX(1.07);-webkit-text-stroke-width:1.1px;">-</div>
<div style="left:2575.8px;top:1678.0px;font-size:46px;transform-origin:0 83.8%;transform:scaleX(0.945);-webkit-text-stroke-width:1.5px;">5</div>
<div style="left:2763.2px;top:1678.5px;font-size:46px;transform-origin:0 83.8%;transform:scaleX(0.945);-webkit-text-stroke-width:1.5px;">5</div>
<div style="left:2907.2px;top:1682.0px;font-size:43px;transform-origin:50% 50%;transform:translateX(-50%) scaleX(1.07);-webkit-text-stroke-width:1.1px;">-</div>
<div style="left:3025.5px;top:1683.4px;font-size:43px;transform-origin:50% 50%;transform:translateX(-50%) scaleX(1.07);-webkit-text-stroke-width:1.1px;">-</div>
<div style="left:3107.3px;top:1682.2px;font-size:46px;transform-origin:0 83.8%;transform:scaleX(0.945);-webkit-text-stroke-width:1.5px;">3</div>
<div style="left:1538.5px;top:1730.5px;font-size:43px;transform-origin:0 83.8%;transform:scaleX(1.07);">РП</div>
<div style="left:1710.0px;top:1731.0px;font-size:43px;transform-origin:50% 50%;transform:translateX(-50%) scaleX(1.07);-webkit-text-stroke-width:1.1px;">-</div>
<div style="left:1872.9px;top:1730.5px;font-size:43px;transform-origin:50% 50%;transform:translateX(-50%) scaleX(1.07);-webkit-text-stroke-width:1.1px;">-</div>
<div style="left:2035.4px;top:1730.7px;font-size:43px;transform-origin:50% 50%;transform:translateX(-50%) scaleX(1.07);-webkit-text-stroke-width:1.1px;">-</div>
<div style="left:2198.4px;top:1731.0px;font-size:43px;transform-origin:50% 50%;transform:translateX(-50%) scaleX(1.07);-webkit-text-stroke-width:1.1px;">-</div>
<div style="left:2308.5px;top:1729.4px;font-size:46px;transform-origin:0 83.8%;transform:scaleX(0.945);-webkit-text-stroke-width:1.5px;">86</div>
<div style="left:2494.1px;top:1732.1px;font-size:43px;transform-origin:50% 50%;transform:translateX(-50%) scaleX(1.07);-webkit-text-stroke-width:1.1px;">-</div>
<div style="left:2575.5px;top:1730.4px;font-size:46px;transform-origin:0 83.8%;transform:scaleX(0.945);-webkit-text-stroke-width:1.5px;">5</div>
<div style="left:2762.9px;top:1730.9px;font-size:46px;transform-origin:0 83.8%;transform:scaleX(0.945);-webkit-text-stroke-width:1.5px;">5</div>
<div style="left:2906.9px;top:1734.4px;font-size:43px;transform-origin:50% 50%;transform:translateX(-50%) scaleX(1.07);-webkit-text-stroke-width:1.1px;">-</div>
<div style="left:3025.1px;top:1735.8px;font-size:43px;transform-origin:50% 50%;transform:translateX(-50%) scaleX(1.07);-webkit-text-stroke-width:1.1px;">-</div>
<div style="left:3107.0px;top:1734.5px;font-size:46px;transform-origin:0 83.8%;transform:scaleX(0.945);-webkit-text-stroke-width:1.5px;">4</div>
<div style="left:1538.3px;top:1783.0px;font-size:43px;transform-origin:0 83.8%;transform:scaleX(1.07);">П</div>
<div style="left:1658.5px;top:1781.3px;font-size:46px;transform-origin:0 83.8%;transform:scaleX(0.975);-webkit-text-stroke-width:1.5px;">49,4</div>
<div style="left:1859.6px;top:1780.9px;font-size:46px;transform-origin:0 83.8%;transform:scaleX(0.945);-webkit-text-stroke-width:1.5px;">2</div>
<div style="left:1984.4px;top:1781.0px;font-size:46px;transform-origin:0 83.8%;transform:scaleX(0.975);-webkit-text-stroke-width:1.5px;">1,7</div>
<div style="left:2198.1px;top:1781.4px;font-size:46px;transform-origin:50% 50%;transform:translateX(-50%) scaleX(0.975);-webkit-text-stroke-width:1.5px;">5,1</div>
<div style="left:2308.2px;top:1781.8px;font-size:46px;transform-origin:0 83.8%;transform:scaleX(0.975);-webkit-text-stroke-width:1.5px;">17,8</div>
<div style="left:2456.4px;top:1782.4px;font-size:46px;transform-origin:0 83.8%;transform:scaleX(0.975);-webkit-text-stroke-width:1.5px;">9,8</div>
<div style="left:2575.2px;top:1782.9px;font-size:46px;transform-origin:0 83.8%;transform:scaleX(0.975);-webkit-text-stroke-width:1.5px;">1,8</div>
<div style="left:2762.6px;top:1783.3px;font-size:46px;transform-origin:0 83.8%;transform:scaleX(0.945);-webkit-text-stroke-width:1.5px;">5</div>
<div style="left:2870.0px;top:1784.4px;font-size:46px;transform-origin:0 83.8%;transform:scaleX(0.975);-webkit-text-stroke-width:1.5px;">1,2</div>
<div style="left:3024.8px;top:1788.3px;font-size:43px;transform-origin:50% 50%;transform:translateX(-50%) scaleX(1.07);-webkit-text-stroke-width:1.1px;">-</div>
<div style="left:3106.6px;top:1786.9px;font-size:46px;transform-origin:0 83.8%;transform:scaleX(0.975);-webkit-text-stroke-width:1.5px;">6,2</div>
<div style="left:1538.2px;top:1835.5px;font-size:43px;transform-origin:0 83.8%;transform:scaleX(1.07);">Р</div>
<div style="left:1658.3px;top:1833.8px;font-size:46px;transform-origin:0 83.8%;transform:scaleX(0.975);-webkit-text-stroke-width:1.5px;">38,5</div>
<div style="left:1872.6px;top:1835.4px;font-size:43px;transform-origin:50% 50%;transform:translateX(-50%) scaleX(1.07);-webkit-text-stroke-width:1.1px;">-</div>
<div style="left:1984.2px;top:1833.5px;font-size:46px;transform-origin:0 83.8%;transform:scaleX(0.975);-webkit-text-stroke-width:1.5px;">2,5</div>
<div style="left:2197.9px;top:1833.9px;font-size:46px;transform-origin:50% 50%;transform:translateX(-50%) scaleX(0.945);-webkit-text-stroke-width:1.5px;">5</div>
<div style="left:2308.0px;top:1834.3px;font-size:46px;transform-origin:0 83.8%;transform:scaleX(0.975);-webkit-text-stroke-width:1.5px;">30,4</div>
<div style="left:2456.1px;top:1834.9px;font-size:46px;transform-origin:0 83.8%;transform:scaleX(0.975);-webkit-text-stroke-width:1.5px;">9,2</div>
<div style="left:2574.9px;top:1835.3px;font-size:46px;transform-origin:0 83.8%;transform:scaleX(0.975);-webkit-text-stroke-width:1.5px;">0,8</div>
<div style="left:2767.3px;top:1835.8px;font-size:46px;transform-origin:0 83.8%;transform:scaleX(0.975);-webkit-text-stroke-width:1.5px;">7,5</div>
<div style="left:2869.7px;top:1836.8px;font-size:46px;transform-origin:0 83.8%;transform:scaleX(0.975);-webkit-text-stroke-width:1.5px;">0,9</div>
<div style="left:3024.4px;top:1840.7px;font-size:43px;transform-origin:50% 50%;transform:translateX(-50%) scaleX(1.07);-webkit-text-stroke-width:1.1px;">-</div>
<div style="left:3106.3px;top:1839.3px;font-size:46px;transform-origin:0 83.8%;transform:scaleX(0.975);-webkit-text-stroke-width:1.5px;">5,2</div>
<div style="left:1538.0px;top:1887.9px;font-size:43px;transform-origin:0 83.8%;transform:scaleX(1.07);">РП</div>
<div style="left:1658.2px;top:1886.2px;font-size:46px;transform-origin:0 83.8%;transform:scaleX(0.975);-webkit-text-stroke-width:1.5px;">40,8</div>
<div style="left:1855.3px;top:1885.8px;font-size:46px;transform-origin:0 83.8%;transform:scaleX(0.975);-webkit-text-stroke-width:1.5px;">0,6</div>
<div style="left:1984.0px;top:1885.9px;font-size:46px;transform-origin:0 83.8%;transform:scaleX(0.975);-webkit-text-stroke-width:1.5px;">2,2</div>
<div style="left:2197.7px;top:1886.3px;font-size:46px;transform-origin:50% 50%;transform:translateX(-50%) scaleX(0.975);-webkit-text-stroke-width:1.5px;">4,9</div>
<div style="left:2307.8px;top:1886.7px;font-size:46px;transform-origin:0 83.8%;transform:scaleX(0.975);-webkit-text-stroke-width:1.5px;">28,1</div>
<div style="left:2455.9px;top:1887.3px;font-size:46px;transform-origin:0 83.8%;transform:scaleX(0.975);-webkit-text-stroke-width:1.5px;">9,3</div>
<div style="left:2574.6px;top:1887.8px;font-size:46px;transform-origin:0 83.8%;transform:scaleX(0.975);-webkit-text-stroke-width:1.5px;">0,9</div>
<div style="left:2760.1px;top:1888.1px;font-size:46px;transform-origin:0 83.8%;transform:scaleX(0.945);-webkit-text-stroke-width:1.5px;">7</div>
<div style="left:2869.3px;top:1889.3px;font-size:46px;transform-origin:0 83.8%;transform:scaleX(0.975);-webkit-text-stroke-width:1.5px;">0,9</div>
<div style="left:3024.1px;top:1893.1px;font-size:43px;transform-origin:50% 50%;transform:translateX(-50%) scaleX(1.07);-webkit-text-stroke-width:1.1px;">-</div>
<div style="left:3105.9px;top:1891.7px;font-size:46px;transform-origin:0 83.8%;transform:scaleX(0.975);-webkit-text-stroke-width:1.5px;">5,3</div>
<div style="left:1537.6px;top:2045.3px;font-size:43px;transform-origin:0 83.8%;transform:scaleX(1.07);">П</div>
<div style="left:1657.7px;top:2043.6px;font-size:46px;transform-origin:0 83.8%;transform:scaleX(0.945);-webkit-text-stroke-width:1.5px;">23</div>
<div style="left:1858.8px;top:2043.2px;font-size:46px;transform-origin:0 83.8%;transform:scaleX(0.945);-webkit-text-stroke-width:1.5px;">2</div>
<div style="left:2034.2px;top:2045.4px;font-size:43px;transform-origin:50% 50%;transform:translateX(-50%) scaleX(1.07);-webkit-text-stroke-width:1.1px;">-</div>
<div style="left:2197.0px;top:2045.7px;font-size:43px;transform-origin:50% 50%;transform:translateX(-50%) scaleX(1.07);-webkit-text-stroke-width:1.1px;">-</div>
<div style="left:2307.1px;top:2044.1px;font-size:46px;transform-origin:0 83.8%;transform:scaleX(0.945);-webkit-text-stroke-width:1.5px;">49</div>
<div style="left:2492.4px;top:2046.8px;font-size:43px;transform-origin:50% 50%;transform:translateX(-50%) scaleX(1.07);-webkit-text-stroke-width:1.1px;">-</div>
<div style="left:2573.8px;top:2045.1px;font-size:46px;transform-origin:0 83.8%;transform:scaleX(0.945);-webkit-text-stroke-width:1.5px;">3</div>
<div style="left:2750.7px;top:2045.3px;font-size:46px;transform-origin:0 83.8%;transform:scaleX(0.945);-webkit-text-stroke-width:1.5px;">11</div>
<div style="left:2868.3px;top:2046.5px;font-size:46px;transform-origin:0 83.8%;transform:scaleX(0.975);-webkit-text-stroke-width:1.5px;">3,0</div>
<div style="left:3023.0px;top:2050.3px;font-size:43px;transform-origin:50% 50%;transform:translateX(-50%) scaleX(1.07);-webkit-text-stroke-width:1.1px;">-</div>
<div style="left:3104.8px;top:2048.8px;font-size:46px;transform-origin:0 83.8%;transform:scaleX(0.945);-webkit-text-stroke-width:1.5px;">9</div>
<div style="left:1537.5px;top:2097.8px;font-size:43px;transform-origin:0 83.8%;transform:scaleX(1.07);">Р</div>
<div style="left:1657.5px;top:2096.1px;font-size:46px;transform-origin:0 83.8%;transform:scaleX(0.945);-webkit-text-stroke-width:1.5px;">25</div>
<div style="left:1871.6px;top:2097.7px;font-size:43px;transform-origin:50% 50%;transform:translateX(-50%) scaleX(1.07);-webkit-text-stroke-width:1.1px;">-</div>
<div style="left:2034.0px;top:2097.9px;font-size:43px;transform-origin:50% 50%;transform:translateX(-50%) scaleX(1.07);-webkit-text-stroke-width:1.1px;">-</div>
<div style="left:2196.8px;top:2098.1px;font-size:43px;transform-origin:50% 50%;transform:translateX(-50%) scaleX(1.07);-webkit-text-stroke-width:1.1px;">-</div>
<div style="left:2306.8px;top:2096.5px;font-size:46px;transform-origin:0 83.8%;transform:scaleX(0.945);-webkit-text-stroke-width:1.5px;">57</div>
<div style="left:2492.2px;top:2099.3px;font-size:43px;transform-origin:50% 50%;transform:translateX(-50%) scaleX(1.07);-webkit-text-stroke-width:1.1px;">-</div>
<div style="left:2573.5px;top:2097.6px;font-size:46px;transform-origin:0 83.8%;transform:scaleX(0.945);-webkit-text-stroke-width:1.5px;">3</div>
<div style="left:2750.5px;top:2097.7px;font-size:46px;transform-origin:0 83.8%;transform:scaleX(0.945);-webkit-text-stroke-width:1.5px;">12</div>
<div style="left:2867.9px;top:2098.9px;font-size:46px;transform-origin:0 83.8%;transform:scaleX(0.975);-webkit-text-stroke-width:1.5px;">3,0</div>
<div style="left:3022.6px;top:2102.7px;font-size:43px;transform-origin:50% 50%;transform:translateX(-50%) scaleX(1.07);-webkit-text-stroke-width:1.1px;">-</div>
<div style="left:3105.5px;top:2103.2px;font-size:43px;transform-origin:0 83.8%;transform:scaleX(1.07);-webkit-text-stroke-width:1.1px;">-</div>
<div style="left:1537.3px;top:2150.3px;font-size:43px;transform-origin:0 83.8%;transform:scaleX(1.07);">РП</div>
<div style="left:1657.4px;top:2148.6px;font-size:46px;transform-origin:0 83.8%;transform:scaleX(0.945);-webkit-text-stroke-width:1.5px;">22</div>
<div style="left:1858.4px;top:2148.1px;font-size:46px;transform-origin:0 83.8%;transform:scaleX(0.945);-webkit-text-stroke-width:1.5px;">2</div>
<div style="left:2033.8px;top:2150.3px;font-size:43px;transform-origin:50% 50%;transform:translateX(-50%) scaleX(1.07);-webkit-text-stroke-width:1.1px;">-</div>
<div style="left:2196.6px;top:2150.6px;font-size:43px;transform-origin:50% 50%;transform:translateX(-50%) scaleX(1.07);-webkit-text-stroke-width:1.1px;">-</div>
<div style="left:2306.6px;top:2149.0px;font-size:46px;transform-origin:0 83.8%;transform:scaleX(0.945);-webkit-text-stroke-width:1.5px;">50</div>
<div style="left:2491.9px;top:2151.7px;font-size:43px;transform-origin:50% 50%;transform:translateX(-50%) scaleX(1.07);-webkit-text-stroke-width:1.1px;">-</div>
<div style="left:2573.2px;top:2150.0px;font-size:46px;transform-origin:0 83.8%;transform:scaleX(0.945);-webkit-text-stroke-width:1.5px;">3</div>
<div style="left:2750.2px;top:2150.1px;font-size:46px;transform-origin:0 83.8%;transform:scaleX(0.945);-webkit-text-stroke-width:1.5px;">11</div>
<div style="left:2867.6px;top:2151.3px;font-size:46px;transform-origin:0 83.8%;transform:scaleX(0.975);-webkit-text-stroke-width:1.5px;">3,0</div>
<div style="left:3022.2px;top:2155.1px;font-size:43px;transform-origin:50% 50%;transform:translateX(-50%) scaleX(1.07);-webkit-text-stroke-width:1.1px;">-</div>
<div style="left:3104.1px;top:2153.6px;font-size:46px;transform-origin:0 83.8%;transform:scaleX(0.945);-webkit-text-stroke-width:1.5px;">9</div>
</div></body></html>
